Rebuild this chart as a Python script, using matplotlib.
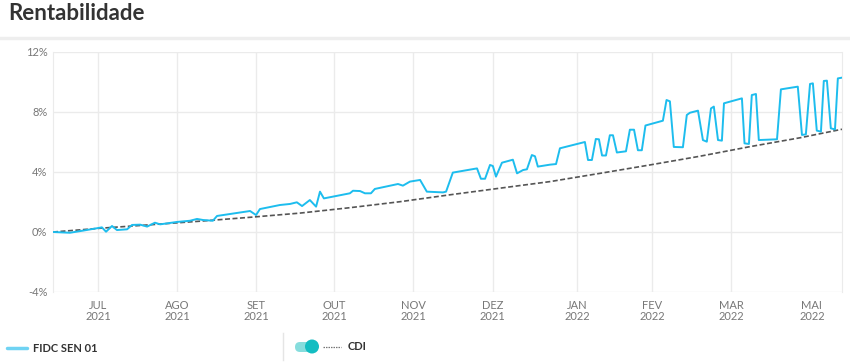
import matplotlib.pyplot as plt
from matplotlib.patches import FancyBboxPatch, Circle

plt.rcParams['font.family'] = ['Lato', 'DejaVu Sans']

# x in days since the first quote (mid June 2021)
fidc_days = [0, 6.5, 11.5, 16.9, 18.8, 20.4, 22.7, 24.6, 28.5, 30.4, 33.5, 36.2,
             39.2, 41.2, 47.7, 52.7, 55.4, 57.7, 61.5, 63.1, 75.8, 78.1, 79.6,
             87.3, 91.2, 93.8, 95.8, 98.8, 101.2, 102.7, 104.2, 114.2, 115.4,
             118.1, 120, 122.3, 123.8, 132.7, 134.6, 137.3, 141.2, 143.8, 150,
             151.2, 153.8, 163.1, 164.6, 166.2, 168.1, 169.2, 170.4, 172.7,
             176.9, 178.5, 180.8, 182.3, 184.2, 185.4, 186.5, 191.2, 193.5, 195,
             204.6, 205.8, 207.3, 208.8, 210, 211.2, 212.7, 214.2, 215.4, 216.9,
             220.4, 221.9, 223.5, 225, 226.5, 227.9, 234.6, 236, 237.3, 238.8,
             242.3, 243.8, 245, 248.1, 250, 251.5, 253.1, 254.2, 255.8, 257.3,
             258.1, 265, 266, 267.7, 268.8, 270.4, 271.5, 278.5, 280, 286.5,
             288.1, 289.6, 291.2, 292.3, 293.8, 295.4, 296.5, 297.7, 299.2,
             300.8, 301.9, 303.5]
fidc_ret = [0.0, -0.05, 0.09, 0.25, 0.31, 0.02, 0.40, 0.13, 0.18, 0.47, 0.49, 0.36,
            0.62, 0.51, 0.67, 0.75, 0.87, 0.80, 0.75, 1.07, 1.40, 1.13, 1.53,
            1.80, 1.87, 1.98, 1.73, 2.13, 1.69, 2.69, 2.24, 2.58, 2.75,
            2.73, 2.58, 2.58, 2.87, 3.20, 3.09, 3.36, 3.47, 2.69, 2.64,
            2.69, 3.96, 4.24, 3.55, 3.55, 4.47, 4.40, 3.69, 4.62,
            4.82, 3.91, 4.13, 4.18, 5.13, 5.05, 4.36, 4.49, 4.53, 5.58,
            6.00, 4.80, 4.80, 6.20, 6.18, 5.10, 5.10, 6.45, 6.45, 5.30,
            5.38, 6.82, 6.82, 5.45, 5.45, 7.10, 7.42, 8.80, 8.71, 5.67,
            5.65, 7.80, 7.95, 8.09, 6.13, 6.02, 8.24, 8.36, 6.13, 6.09,
            8.58, 8.91, 5.91, 5.87, 9.13, 9.20, 6.13, 6.18, 9.51, 9.69,
            6.47, 6.51, 9.87, 9.91, 6.76, 6.69, 10.07, 10.09, 6.91,
            6.84, 10.24, 10.29]

cdi_days = [0, 18.1, 37.3, 56.5, 75.8, 95, 114.2, 133.5, 152.7, 171.9, 191.2,
            210.4, 229.6, 248.8, 268.1, 287.3, 303.5]
cdi_ret = [0.0, 0.25, 0.48, 0.72, 0.98, 1.26, 1.62, 2.02, 2.48, 2.92, 3.36,
           3.91, 4.47, 5.05, 5.69, 6.28, 6.85]

tick_days = [17.3, 47.7, 78.1, 108.1, 138.5, 169.2, 201.5, 230.4, 260.8, 291.9]
tick_labels = ['JUL\n2021', 'AGO\n2021', 'SET\n2021', 'OUT\n2021', 'NOV\n2021',
               'DEZ\n2021', 'JAN\n2022', 'FEV\n2022', 'MAR\n2022', 'MAI\n2022']
y_ticks = [-4, 0, 4, 8, 12]

blue = '#1dbdee'
grid = '#ebebeb'

fig = plt.figure(figsize=(8.5, 3.62), dpi=100)

# overlay in pixel units for the header and the legend row
ov = fig.add_axes([0, 0, 1, 1])
ov.set_xlim(0, 850)
ov.set_ylim(362, 0)
ov.axis('off')
ov.text(8, 14, 'Rentabilidade', fontsize=16, fontweight='bold',
        color='#333333', va='center', ha='left')
ov.plot([0, 850], [38, 38], color='#eeeeee', lw=2.5)

ov.plot([7, 27], [348, 348], color='#6fd3f3', lw=2.5, solid_capstyle='round')
ov.text(33, 348, 'FIDC SEN 01', fontsize=8, fontweight='bold',
        color='#333333', va='center')
ov.plot([283, 283], [333, 360], color='#e5e5e5', lw=1)
ov.add_patch(FancyBboxPatch((295, 342), 23, 10, boxstyle='round,pad=0,rounding_size=5',
                            fc='#86dddd', ec='none'))
ov.add_patch(Circle((312, 346.5), 7, fc='#13bdc2', ec='none'))
ov.plot([323, 341], [347, 347], color='#777777', lw=0.9, dashes=(1.2, 0.8))
ov.text(348, 347, 'CDI', fontsize=8, fontweight='bold',
        color='#333333', va='center')

ax = fig.add_axes([53 / 850, 70 / 362, 789 / 850, 240 / 362])
ax.plot(cdi_days, cdi_ret, color='#555555', lw=1.2, dashes=(3, 1.5), zorder=3)
ax.plot(fidc_days, fidc_ret, color=blue, lw=1.4, solid_joinstyle='round', zorder=4)

ax.set_xlim(0, 303.5)
ax.set_ylim(-4, 12)
ax.set_yticks(y_ticks)
ax.set_yticklabels([str(v) + '%' for v in y_ticks])
ax.set_xticks(tick_days)
ax.set_xticklabels(tick_labels, linespacing=0.95)
ax.tick_params(length=0, labelsize=8, labelcolor='#777777')
ax.tick_params(axis='y', pad=4)
ax.tick_params(axis='x', pad=6)

for v in y_ticks:
    ax.axhline(v, color=grid, lw=1, zorder=1)
for d in tick_days[:-1]:
    ax.axvline(d, color=grid, lw=1, zorder=1)
for s in ['top', 'bottom']:
    ax.spines[s].set_visible(False)
ax.spines['left'].set_color(grid)
ax.spines['right'].set_color(grid)

fig.savefig('out.png', dpi=100)
